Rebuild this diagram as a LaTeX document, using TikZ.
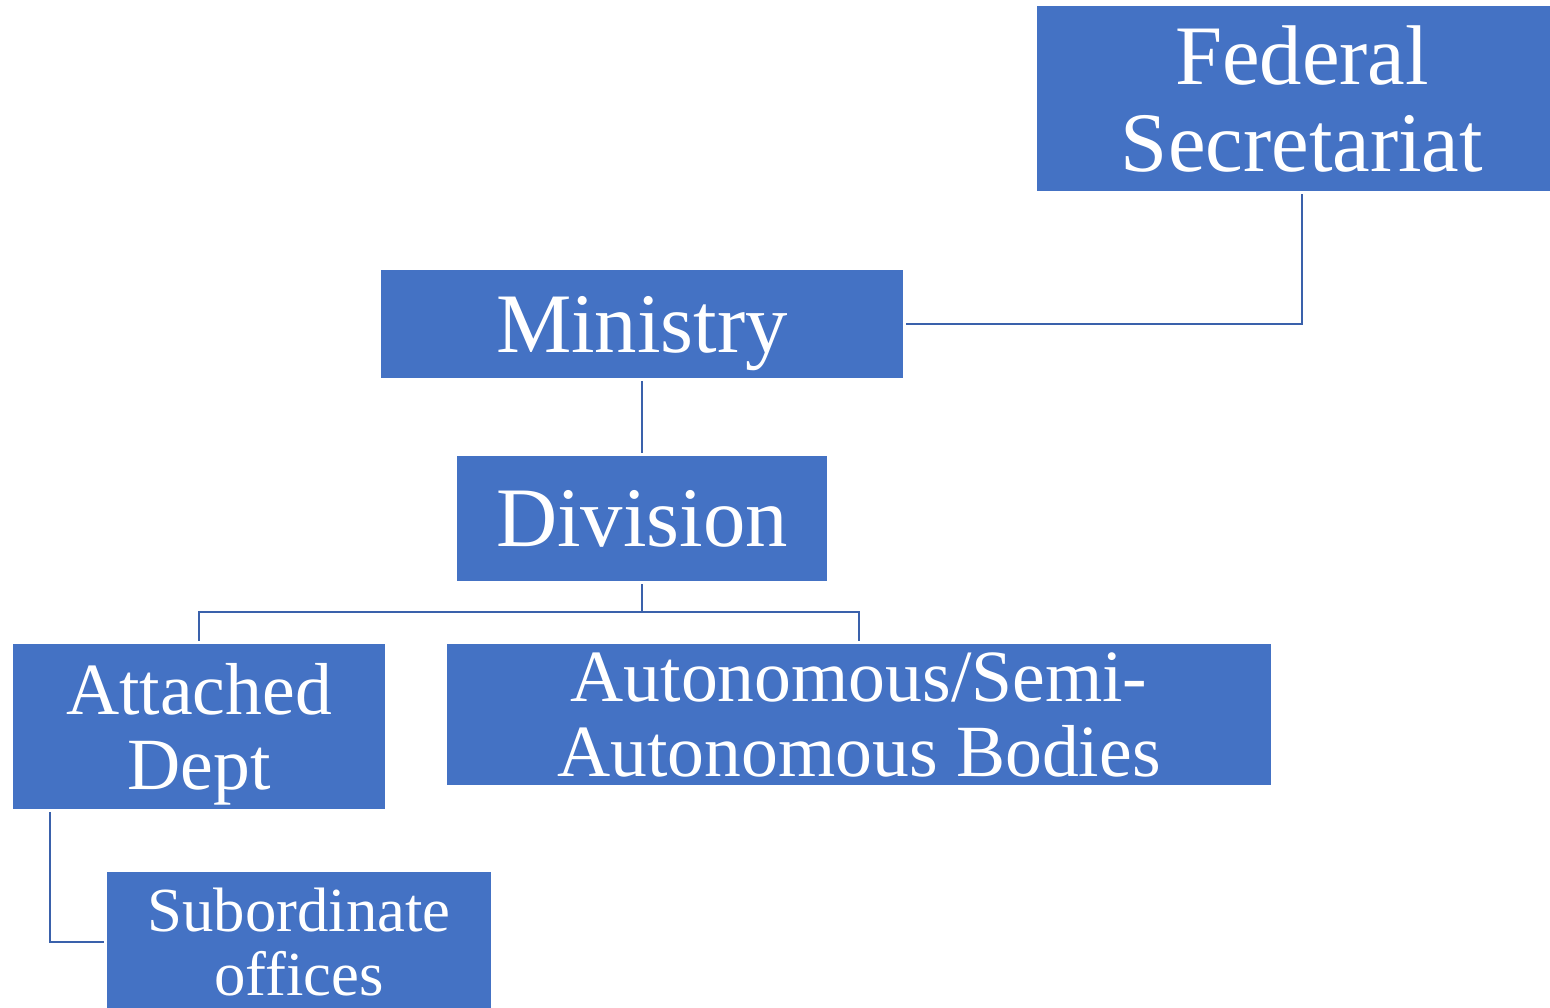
\documentclass[tikz,border=0pt]{standalone}
\usepackage{fontspec}
\setmainfont{Liberation Serif}
\usepackage{tikz}

\definecolor{boxblue}{HTML}{4472C4}
\definecolor{lineblue}{HTML}{3A61AB}

\newcommand{\largetxt}{\fontsize{48.2}{49.3}\selectfont}
\newcommand{\midtxt}{\fontsize{41.9}{42.8}\selectfont}
\newcommand{\smalltxt}{\fontsize{35.7}{36.6}\selectfont}

\begin{document}
\begin{tikzpicture}[
    box/.style={fill=boxblue, text=white, inner sep=0pt, align=center, text depth=0pt},
    link/.style={draw=lineblue, line width=1.25pt, shorten <=0.06cm, shorten >=0.06cm}
]
    \useasboundingbox (0,0) rectangle (31,-20.14);

    % Boxes
    \node[box, font=\largetxt, minimum width=10.6cm, minimum height=3.7cm] (fed) at (26.04,-1.97) {Federal\\Secretariat};
    \node[box, font=\largetxt, minimum width=10.44cm, minimum height=2.16cm] (min) at (12.84,-6.48) {Ministry};
    \node[box, font=\largetxt, minimum width=7.4cm, minimum height=2.5cm] (div) at (12.84,-10.37) {Division};
    \node[box, font=\midtxt, minimum width=7.44cm, minimum height=3.3cm] (att) at (3.98,-14.53) {Attached\\Dept};
    \node[box, font=\midtxt, minimum width=16.48cm, minimum height=2.82cm] (aut) at (17.18,-14.29) {Autonomous/Semi-\\Autonomous Bodies};
    \node[box, font=\smalltxt, minimum width=7.68cm, minimum height=2.8cm] (sub) at (5.98,-18.84) {Subordinate\\offices};

    % Connectors
    \draw[link] (fed.south) |- (min.east);
    \draw[link] (min.south) -- (div.north);
    \draw[link] (div.south) -- ++(0,-0.62) -| (att.north);
    \draw[link] (div.south) -- ++(0,-0.62) -| (aut.north);
    \draw[link] ([xshift=0.74cm]att.south west) |- (sub.west);

\end{tikzpicture}
\end{document}
